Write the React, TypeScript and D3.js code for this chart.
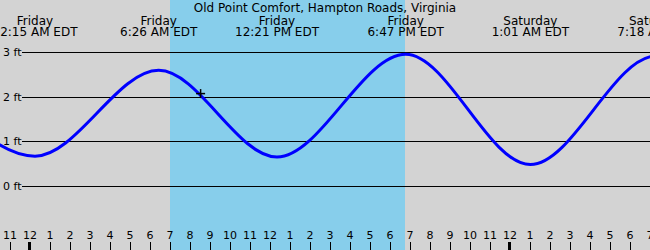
import React from "react";
import * as d3 from "d3";

const title = "Old Point Comfort, Hampton Roads, Virginia";
// hours after Friday 00:00 EDT
const tideHours = [-5.95, 0.25, 6.433, 12.35, 18.783, 25.017, 31.3, 37.5];
const tideFeet = [2.95, 0.68, 2.6, 0.66, 2.96, 0.49, 2.92, 0.52];
const tideDays = ["Thursday", "Friday", "Friday", "Friday", "Friday", "Saturday", "Saturday", "Saturday"];
const tideTimes = ["5:57 PM EDT", "12:15 AM EDT", "6:26 AM EDT", "12:21 PM EDT", "6:47 PM EDT", "1:01 AM EDT", "7:18 AM EDT", "1:30 PM EDT"];
const feetTicks = [0, 1, 2, 3];
const hourTicks = [-1, 0, 1, 2, 3, 4, 5, 6, 7, 8, 9, 10, 11, 12, 13, 14, 15, 16, 17, 18, 19, 20, 21, 22, 23, 24, 25, 26, 27, 28, 29, 30, 31];
const hourLabels = ["11", "12", "1", "2", "3", "4", "5", "6", "7", "8", "9", "10", "11", "12", "1", "2", "3", "4", "5", "6", "7", "8", "9", "10", "11", "12", "1", "2", "3", "4", "5", "6", "7"];
const daylight = [7.0, 18.75];
const nowHour = 8.53;
const nowFeet = 2.08;

const W = 650;
const H = 250;
const FONT = "DejaVu Sans";

export default function App() {
  const x = d3.scaleLinear().domain([-1.5, 31]).range([0, W]);
  const y = d3.scaleLinear().domain([0, 3]).range([186.5, 52.5]);
  const pts = tideHours.map((h, i) => [h, tideFeet[i]] as [number, number]);
  const line = d3
    .line<[number, number]>()
    .x((d) => x(d[0]))
    .y((d) => y(d[1]))
    .curve(d3.curveMonotoneX);
  const crisp = (v: number) => Math.floor(v) + 0.5;
  const nx = x(nowHour);
  const ny = y(nowFeet);
  return (
    <svg width={W} height={H} style={{ position: "absolute", left: 0, top: 0, display: "block" }} fontFamily={FONT}>
      <rect x={0} y={0} width={W} height={H} fill="#d3d3d3" />
      <rect x={x(daylight[0])} y={0} width={x(daylight[1]) - x(daylight[0])} height={H} fill="#87ceeb" />
      <text x={W / 2} y={12} fontSize={12} textAnchor="middle" fill="#000">{title}</text>
      {tideHours.map((h, i) =>
        x(h) > -30 && x(h) < W + 30 ? (
          <g key={"lab" + i}>
            <text x={x(h)} y={25} fontSize={12} textAnchor="middle" fill="#000">{tideDays[i]}</text>
            <text x={x(h)} y={36} fontSize={12} textAnchor="middle" fill="#000">{tideTimes[i]}</text>
          </g>
        ) : null
      )}
      {feetTicks.map((v) => (
        <g key={"ft" + v}>
          <line x1={22} x2={W} y1={crisp(y(v))} y2={crisp(y(v))} stroke="#000" strokeWidth={1} />
          <text x={3} y={crisp(y(v))} dy="0.36em" fontSize={11} fill="#000">{v + " ft"}</text>
        </g>
      ))}
      <path d={line(pts) || ""} fill="none" stroke="#0000ff" strokeWidth={3} />
      <line x1={nx - 4.5} x2={nx + 4.5} y1={ny} y2={ny} stroke="#000" strokeWidth={1.5} />
      <line x1={nx} x2={nx} y1={ny - 4.5} y2={ny + 4.5} stroke="#000" strokeWidth={1.5} />
      {hourTicks.map((h, i) => {
        const mid = h % 24 === 0;
        const tx = mid ? x(h) - 0.5 : x(h) + 0.5;
        return (
          <g key={"h" + i}>
            <line x1={tx} x2={tx} y1={242} y2={H} stroke="#000" strokeWidth={mid ? 3 : 1} />
            <text x={x(h)} y={239} fontSize={11} textAnchor="middle" fill="#000">{hourLabels[i]}</text>
          </g>
        );
      })}
    </svg>
  );
}
